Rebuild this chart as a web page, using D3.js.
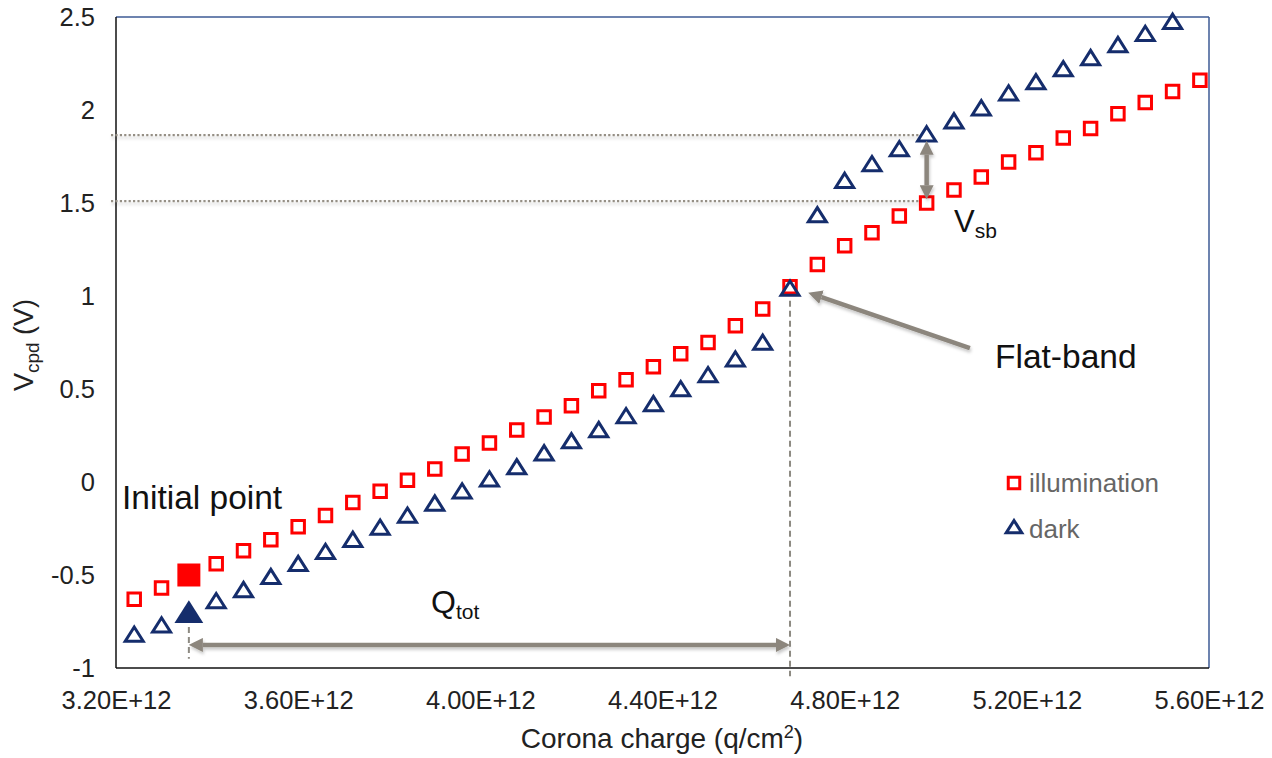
<!DOCTYPE html>
<html>
<head>
<meta charset="utf-8">
<script src="https://cdn.jsdelivr.net/npm/d3@7"></script>
<style>
  body { margin: 0; background: #fff; }
  text { font-family: 'Liberation Sans', Arial, Helvetica, sans-serif; }
</style>
</head>
<body>
<div id="chart"></div>
<script>
// corona charge, in units of 1E+12 q/cm2
const charge = [3.24, 3.30, 3.36, 3.42, 3.48, 3.54, 3.60, 3.66, 3.72, 3.78,
  3.84, 3.90, 3.96, 4.02, 4.08, 4.14, 4.20, 4.26, 4.32, 4.38,
  4.44, 4.50, 4.56, 4.62, 4.68, 4.74, 4.80, 4.86, 4.92, 4.98,
  5.04, 5.10, 5.16, 5.22, 5.28, 5.34, 5.40, 5.46, 5.52, 5.58]

// Vcpd under illumination (V)
const illumination = [-0.63, -0.57, -0.50, -0.44, -0.37, -0.31, -0.24, -0.18, -0.11, -0.05,
  0.01, 0.07, 0.15, 0.21, 0.28, 0.35, 0.41, 0.49, 0.55, 0.62,
  0.69, 0.75, 0.84, 0.93, 1.05, 1.17, 1.27, 1.34, 1.43, 1.50,
  1.57, 1.64, 1.72, 1.77, 1.85, 1.90, 1.98, 2.04, 2.10, 2.16]

// Vcpd in the dark (V)
const dark = [-0.82, -0.77, -0.70, -0.64, -0.58, -0.51, -0.44, -0.375, -0.31, -0.245,
  -0.18, -0.115, -0.05, 0.015, 0.08, 0.155, 0.22, 0.28, 0.355, 0.42,
  0.50, 0.575, 0.66, 0.75, 1.04, 1.435, 1.62, 1.71, 1.79, 1.87,
  1.94, 2.01, 2.09, 2.15, 2.22, 2.28, 2.35, 2.41, 2.475]

const xTicks = [3.2, 3.6, 4.0, 4.4, 4.8, 5.2, 5.6]
const xTickLabels = ['3.20E+12', '3.60E+12', '4.00E+12', '4.40E+12', '4.80E+12', '5.20E+12', '5.60E+12']
const yTicks = [-1, -0.5, 0, 0.5, 1, 1.5, 2, 2.5]
const yTickLabels = ['-1', '-0.5', '0', '0.5', '1', '1.5', '2', '2.5']

// annotation points (charge, V)
const initialIndex = 2
const flatBandIndex = 24
const vsbLevels = [1.865, 1.51]
const vsbArrow = { x: 4.98, from: 1.835, to: 1.52 }
const qtotArrow = { y: -0.876, from: 3.36, to: 4.68 }
const flatArrow = { from: [5.075, 0.72], to: [4.72, 1.018] }

const margin = { top: 17, right: 63, bottom: 90, left: 116 },
  width = 1272 - margin.left - margin.right,
  height = 758 - margin.top - margin.bottom

const RED = '#ff0000',
  NAVY = '#152d6c',
  ARROW = '#8c867d',
  FONT = "'Liberation Sans', Arial, Helvetica, sans-serif"

const svg = d3
  .select('#chart')
  .append('svg')
  .attr('width', width + margin.left + margin.right)
  .attr('height', height + margin.top + margin.bottom)

const defs = svg.append('defs')
// user-space region so flat (horizontal / vertical) lines are not clipped away
defs
  .append('filter')
  .attr('id', 'shadow')
  .attr('filterUnits', 'userSpaceOnUse')
  .attr('x', -200).attr('y', -200).attr('width', 1700).attr('height', 1200)
  .append('feDropShadow')
  .attr('dx', 1).attr('dy', 2.5).attr('stdDeviation', 1.6)
  .attr('flood-color', '#000').attr('flood-opacity', 0.22)
defs
  .append('marker')
  .attr('id', 'head')
  .attr('viewBox', '0 0 10 10')
  .attr('refX', 0).attr('refY', 5)
  .attr('markerUnits', 'userSpaceOnUse')
  .attr('markerWidth', 14).attr('markerHeight', 14)
  .attr('orient', 'auto-start-reverse')
  .append('path')
  .attr('d', 'M0,0L10,5L0,10Z')
  .attr('fill', ARROW)

const g = svg.append('g').attr('transform', `translate(${margin.left},${margin.top})`)

const x = d3.scaleLinear().domain([3.2, 5.6]).range([0, width])
const y = d3.scaleLinear().domain([-1, 2.5]).range([height, 0])

// X axis
g.append('g')
  .attr('transform', `translate(0,${height})`)
  .call(d3.axisBottom(x).tickValues(xTicks).tickFormat((d, i) => xTickLabels[i]).tickSize(0).tickPadding(23))
  .call((a) => a.select('.domain').remove())
  .attr('font-family', FONT)
  .attr('font-size', 25.5)
  .selectAll('text')
  .attr('fill', '#222')

// Y axis
g.append('g')
  .call(d3.axisLeft(y).tickValues(yTicks).tickFormat((d, i) => yTickLabels[i]).tickSize(0).tickPadding(21))
  .call((a) => a.select('.domain').remove())
  .attr('font-family', FONT)
  .attr('font-size', 25.5)
  .selectAll('text')
  .attr('fill', '#222')

// plot frame: black left/bottom, blue top/right
g.append('line').attr('x1', 0).attr('x2', width).attr('y1', 0).attr('y2', 0).attr('stroke', '#3d5a95').attr('stroke-width', 1.5)
g.append('line').attr('x1', width).attr('x2', width).attr('y1', 0).attr('y2', height).attr('stroke', '#3d5a95').attr('stroke-width', 1.5)
g.append('line').attr('x1', 0).attr('x2', 0).attr('y1', 0).attr('y2', height).attr('stroke', '#111').attr('stroke-width', 1.5)
g.append('line').attr('x1', 0).attr('x2', width).attr('y1', height).attr('y2', height).attr('stroke', '#111').attr('stroke-width', 1.5)

// dotted guide lines for Vsb
g.selectAll('.vsb-guide')
  .data(vsbLevels)
  .join('line')
  .attr('class', 'vsb-guide')
  .attr('x1', x(3.189)).attr('x2', x(4.965))
  .attr('y1', (d) => y(d)).attr('y2', (d) => y(d))
  .attr('stroke', '#958f85').attr('stroke-width', 2.4).attr('stroke-dasharray', '2.2,2.2')
  .attr('filter', 'url(#shadow)')

// dashed verticals at initial point and flat-band
g.append('line')
  .attr('x1', x(charge[initialIndex])).attr('x2', x(charge[initialIndex]))
  .attr('y1', y(-0.726)).attr('y2', y(-0.95))
  .attr('stroke', '#8d8a82').attr('stroke-width', 2).attr('stroke-dasharray', '6,4')
g.append('line')
  .attr('x1', x(charge[flatBandIndex])).attr('x2', x(charge[flatBandIndex]))
  .attr('y1', y(0.975)).attr('y2', y(-1.045))
  .attr('stroke', '#8d8a82').attr('stroke-width', 2).attr('stroke-dasharray', '6,4')

// markers
const triPath = (s) => `M0,${-0.5 * s}L${0.6 * s},${0.45 * s}L${-0.6 * s},${0.45 * s}Z`
const squarePath = d3.symbol().type(d3.symbolSquare).size(12.5 * 12.5)

g.selectAll('.illum')
  .data(illumination)
  .join('path')
  .attr('class', 'illum')
  .attr('transform', (d, i) => `translate(${x(charge[i])},${y(d)})`)
  .attr('d', squarePath)
  .attr('fill', 'none')
  .attr('stroke', RED)
  .attr('stroke-width', 3)

g.selectAll('.dark')
  .data(dark)
  .join('path')
  .attr('class', 'dark')
  .attr('transform', (d, i) => `translate(${x(charge[i])},${y(d)})`)
  .attr('d', triPath(15))
  .attr('fill', 'none')
  .attr('stroke', NAVY)
  .attr('stroke-width', 3)
  .attr('stroke-linejoin', 'miter')

// initial point, filled
g.append('path')
  .attr('transform', `translate(${x(charge[initialIndex])},${y(illumination[initialIndex])})`)
  .attr('d', d3.symbol().type(d3.symbolSquare).size(23 * 23)())
  .attr('fill', RED)
g.append('path')
  .attr('transform', `translate(${x(charge[initialIndex])},${y(dark[initialIndex])})`)
  .attr('d', triPath(24))
  .attr('fill', NAVY)

// arrows, shortened so the head tip lands on the end point
const arrow = (p0, p1, both) => {
  const head = 14
  const dx = p1[0] - p0[0], dy = p1[1] - p0[1]
  const len = Math.hypot(dx, dy), ux = dx / len, uy = dy / len
  const a = both ? [p0[0] + ux * head, p0[1] + uy * head] : p0
  const b = [p1[0] - ux * head, p1[1] - uy * head]
  const line = g.append('line')
    .attr('x1', a[0]).attr('y1', a[1]).attr('x2', b[0]).attr('y2', b[1])
    .attr('stroke', ARROW).attr('stroke-width', 4.5)
    .attr('marker-end', 'url(#head)')
    .attr('filter', 'url(#shadow)')
  if (both) line.attr('marker-start', 'url(#head)')
}
arrow([x(qtotArrow.from), y(qtotArrow.y)], [x(qtotArrow.to), y(qtotArrow.y)], true)
arrow([x(vsbArrow.x), y(vsbArrow.from)], [x(vsbArrow.x), y(vsbArrow.to)], true)
arrow([x(flatArrow.from[0]), y(flatArrow.from[1])], [x(flatArrow.to[0]), y(flatArrow.to[1])], false)

// annotation text
svg.append('text').attr('x', 122).attr('y', 509).attr('font-size', 33.5).attr('fill', '#111').text('Initial point')
svg.append('text').attr('x', 995).attr('y', 368).attr('font-size', 33.5).attr('fill', '#111').text('Flat-band')

const qt = svg.append('text').attr('x', 431).attr('y', 613).attr('font-size', 32).attr('fill', '#111')
qt.append('tspan').text('Q')
qt.append('tspan').attr('font-size', 21).attr('dy', 6).text('tot')

const vs = svg.append('text').attr('x', 954).attr('y', 232).attr('font-size', 31).attr('fill', '#111')
vs.append('tspan').text('V')
vs.append('tspan').attr('font-size', 21).attr('dy', 6).text('sb')

// axis titles
const xt = svg.append('text').attr('x', 662).attr('y', 748).attr('text-anchor', 'middle').attr('font-size', 28).attr('fill', '#222')
xt.append('tspan').text('Corona charge (q/cm')
xt.append('tspan').attr('font-size', 18).attr('dy', -10).text('2')
xt.append('tspan').attr('dy', 10).text(')')

const yt = svg.append('text').attr('transform', 'translate(33,345) rotate(-90)').attr('text-anchor', 'middle').attr('font-size', 27).attr('fill', '#222')
yt.append('tspan').text('V')
yt.append('tspan').attr('font-size', 19).attr('dy', 6).text('cpd')
yt.append('tspan').attr('dy', -6).text(' (V)')

// legend
const legend = svg.append('g').attr('font-family', FONT).attr('font-size', 26).attr('fill', '#666')
legend.append('path').attr('transform', 'translate(1014,483)').attr('d', d3.symbol().type(d3.symbolSquare).size(11.5 * 11.5)())
  .attr('fill', 'none').attr('stroke', RED).attr('stroke-width', 3)
legend.append('text').attr('x', 1029).attr('y', 492).text('illumination')
legend.append('path').attr('transform', 'translate(1014,527)').attr('d', triPath(13))
  .attr('fill', 'none').attr('stroke', NAVY).attr('stroke-width', 3)
legend.append('text').attr('x', 1029).attr('y', 538).text('dark')
</script>
</body>
</html>
